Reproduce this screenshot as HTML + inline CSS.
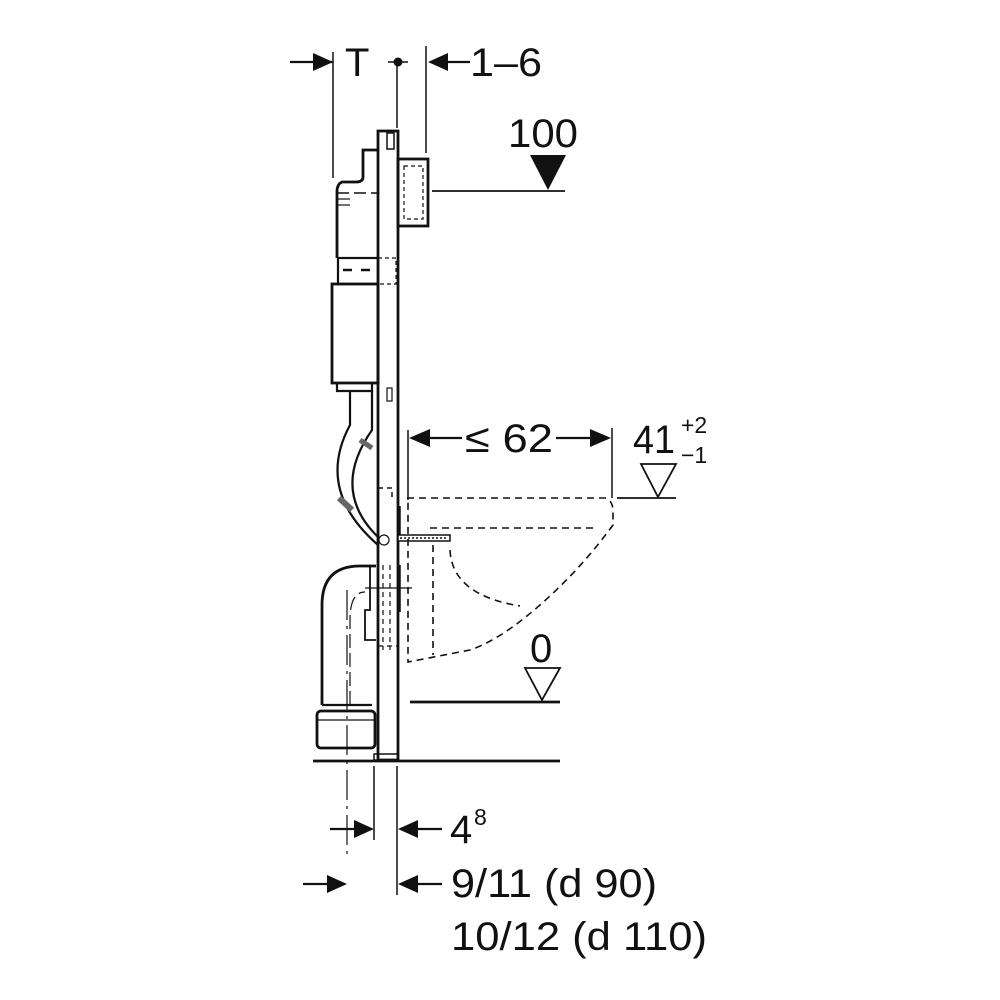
<!DOCTYPE html>
<html><head><meta charset="utf-8"><style>
html,body{margin:0;padding:0;background:#fff;}
svg{display:block;}
text{font-family:"Liberation Sans",sans-serif;fill:#111;}
</style></head><body>
<svg width="1000" height="1000" viewBox="0 0 1000 1000" xmlns="http://www.w3.org/2000/svg">
<g stroke="#111" fill="none" stroke-width="2.2">
<line x1="290" y1="62" x2="333" y2="62"/>
<polygon points="333,62 313,53 313,71" fill="#111" stroke="none"/>
<line x1="333" y1="52" x2="333" y2="178" stroke-width="1.5"/>
<line x1="426" y1="46" x2="426" y2="153" stroke-width="1.5"/>
<polygon points="428,62 448,53 448,71" fill="#111" stroke="none"/>
<line x1="448" y1="62" x2="470" y2="62"/>
<line x1="388" y1="62" x2="408" y2="62" stroke-width="1.5"/>
<circle cx="398" cy="62" r="4.5" fill="#111" stroke="none"/>
<line x1="397" y1="62" x2="397" y2="128" stroke-width="1.5"/>
<path d="M378,131 H398 V760 H378 Z" stroke-width="2.8"/>
<rect x="387" y="133" width="7" height="16" stroke-width="1.5"/>
<rect x="387" y="388" width="5" height="13" stroke-width="1.2"/>
<path d="M378,150 H363 V178 Q362,182 356,182 H342 Q337,184 337,192 V258" stroke-width="2.8"/>
<line x1="337" y1="193" x2="378" y2="193" stroke-dasharray="12,5" stroke-width="1.5"/>
<line x1="337" y1="199" x2="350" y2="199" stroke-width="1.2"/>
<line x1="337" y1="205" x2="350" y2="205" stroke-width="1.2"/>
<rect x="338" y="258" width="40" height="26" stroke-width="2.2"/>
<line x1="343" y1="270" x2="352" y2="270" stroke-width="2.5"/>
<line x1="361" y1="270" x2="370" y2="270" stroke-width="2.5"/>
<path d="M378,258 H396 V284 H378" stroke-dasharray="4,3" stroke-width="1.2"/>
<rect x="332" y="284" width="46" height="99" stroke-width="2.8"/>
<path d="M337,383 V391 H372 V383" stroke-width="2.2"/>
<rect x="398" y="159" width="30" height="67" stroke-width="2.8"/>
<rect x="404" y="166" width="19" height="53" stroke-dasharray="4,3" stroke-width="1.2"/>
<line x1="432" y1="191" x2="565" y2="191" stroke-width="1.8"/>
<polygon points="530,155 566,155 548,190" fill="#111" stroke="none"/>
<path d="M350,391 V425 Q315,490 378,545" stroke-width="2.2"/>
<path d="M372,391 V430 Q330,490 378,537" stroke-width="2.2"/>
<line x1="360" y1="440" x2="372" y2="448" stroke-width="5" stroke="#666"/>
<line x1="339" y1="498" x2="352" y2="510" stroke-width="6" stroke="#666"/>
<path d="M378,488 H392 V500" stroke-dasharray="5,4" stroke-width="1.5"/>
<line x1="399" y1="506" x2="399" y2="535" stroke-width="3.5"/>
<line x1="399" y1="565" x2="399" y2="612" stroke-width="3.5"/>
<line x1="383" y1="565" x2="383" y2="650" stroke-dasharray="5,4" stroke-width="1.2"/>
<line x1="390" y1="565" x2="390" y2="650" stroke-dasharray="5,4" stroke-width="1.2"/>
<line x1="365" y1="588" x2="412" y2="588" stroke-width="1.2"/>
<line x1="378" y1="646" x2="398" y2="646" stroke-dasharray="5,4" stroke-width="1.2"/>
<rect x="398" y="535" width="52" height="6" stroke-width="1.5" fill="#fff"/>
<line x1="400" y1="538" x2="448" y2="538" stroke-dasharray="2,2" stroke-width="1.5"/>
<circle cx="384" cy="540" r="5" stroke-width="1.2"/>
<path d="M322,705 V605 Q322,566 360,566 H376" stroke-width="2.8"/>
<path d="M350,705 V620 Q350,592 365,592" stroke-dasharray="14,5" stroke-width="1.2"/>
<path d="M370,566 V610 H365 V640 H376" stroke-width="1.8"/>
<line x1="322" y1="705" x2="372" y2="705" stroke-width="2.2"/>
<rect x="317" y="711" width="58" height="37" rx="4" stroke-width="2.8"/>
<line x1="317" y1="720" x2="375" y2="720" stroke-width="1.2"/>
<line x1="347" y1="590" x2="347" y2="860" stroke-dasharray="30,6,3,6" stroke-width="1.2"/>
<g stroke-dasharray="7,5" stroke-width="1.6">
<path d="M407,498 H605 Q613,500 613,512 V525 Q580,570 540,605 Q500,640 470,650 L408,662 V498"/>
<path d="M430,528 H593"/>
<path d="M433,545 V655"/>
<path d="M450,550 Q452,595 520,606"/>
</g>
<line x1="408" y1="430" x2="408" y2="500" stroke-width="1.5"/>
<line x1="612" y1="428" x2="612" y2="498" stroke-width="1.5"/>
<polygon points="409,438 430,429 430,447" fill="#111" stroke="none"/>
<line x1="430" y1="438" x2="462" y2="438"/>
<polygon points="611,438 590,429 590,447" fill="#111" stroke="none"/>
<line x1="556" y1="438" x2="590" y2="438"/>
<line x1="617" y1="498" x2="676" y2="498" stroke-width="1.8"/>
<polygon points="641,464 676,464 658,497" stroke-width="1.8"/>
<line x1="410" y1="702" x2="560" y2="702" stroke-width="2.8"/>
<polygon points="525,668 560,668 542,700" stroke-width="1.8"/>
<line x1="313" y1="761" x2="560" y2="761" stroke-width="2.8"/>
<rect x="374" y="754" width="24" height="6" stroke-width="1.5"/>
<line x1="374" y1="766" x2="374" y2="840" stroke-width="1.5"/>
<line x1="397" y1="766" x2="397" y2="895" stroke-width="1.5"/>
<line x1="330" y1="829" x2="355" y2="829"/>
<polygon points="374,829 354,820 354,838" fill="#111" stroke="none"/>
<polygon points="398,829 418,820 418,838" fill="#111" stroke="none"/>
<line x1="418" y1="829" x2="442" y2="829"/>
<line x1="303" y1="884" x2="327" y2="884"/>
<polygon points="347,884 327,875 327,893" fill="#111" stroke="none"/>
<polygon points="398,884 418,875 418,893" fill="#111" stroke="none"/>
<line x1="418" y1="884" x2="442" y2="884"/>
</g>
<text x="345" y="76" font-size="40">T</text>
<text x="470" y="76" font-size="40" textLength="72" lengthAdjust="spacingAndGlyphs">1–6</text>
<text x="508" y="147" font-size="40" textLength="70" lengthAdjust="spacingAndGlyphs">100</text>
<text x="465" y="452" font-size="40" textLength="88" lengthAdjust="spacingAndGlyphs">≤ 62</text>
<text x="633" y="453" font-size="40" textLength="42" lengthAdjust="spacingAndGlyphs">41</text>
<text x="681" y="433" font-size="23">+2</text>
<text x="681" y="463" font-size="23">−1</text>
<text x="530" y="662" font-size="40">0</text>
<text x="450" y="843" font-size="40">4</text>
<text x="474" y="825" font-size="23">8</text>
<text x="451" y="897" font-size="40" textLength="206" lengthAdjust="spacingAndGlyphs">9/11 (d 90)</text>
<text x="451" y="950" font-size="40" textLength="256" lengthAdjust="spacingAndGlyphs">10/12 (d 110)</text>
</svg>
</body></html>
